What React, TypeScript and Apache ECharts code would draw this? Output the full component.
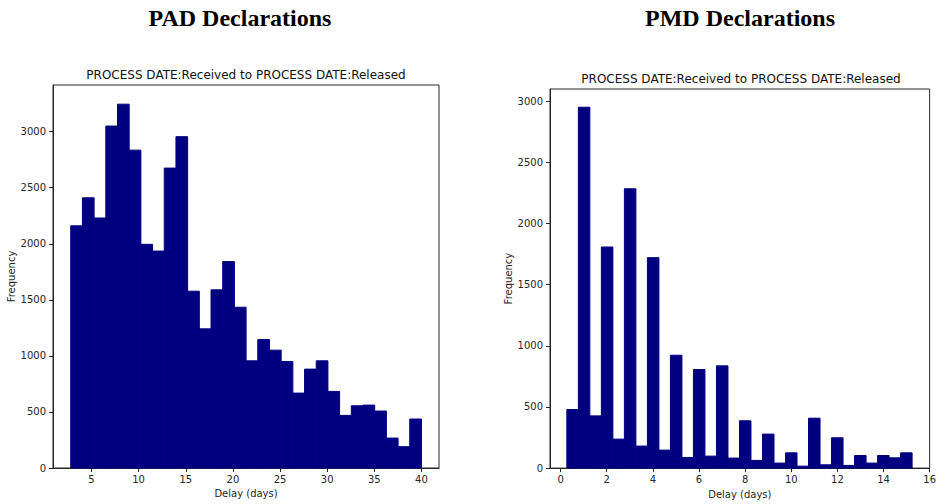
import React, { useEffect, useRef } from "react";
import * as echarts from "echarts";

// PAD histogram: 30 bins
const padBinStart = 2.8;
const padBinWidth = 1.24;
const padCounts = [
  2160, 2410, 2230, 3050, 3245, 2835, 1995, 1935, 2675, 2955,
  1577, 1241, 1589, 1841, 1434, 956, 1146, 1051, 950, 668,
  882, 956, 683, 469, 555, 561, 508, 267, 190, 437,
];
const padXTicks = [5, 10, 15, 20, 25, 30, 35, 40];
const padYTicks = [0, 500, 1000, 1500, 2000, 2500, 3000];

// PMD histogram: 30 bins
const pmdBinStart = 0.27;
const pmdBinWidth = 0.499;
const pmdCounts = [
  479, 2951, 427, 1808, 237, 2284, 180, 1721, 147, 923,
  87, 806, 98, 836, 82, 387, 63, 278, 41, 125,
  16, 408, 27, 248, 22, 103, 41, 103, 84, 125,
];
const pmdXTicks = [0, 2, 4, 6, 8, 10, 12, 14, 16];
const pmdYTicks = [0, 500, 1000, 1500, 2000, 2500, 3000];

const subTitle = "PROCESS DATE:Received to PROCESS DATE:Released";
const FONT = "DejaVu Sans";
const BAR = "#000080";
const INK = "#262626";

function toBins(start: number, width: number, counts: number[]) {
  return counts.map((c, i) => [start + i * width, start + (i + 1) * width, c]);
}

function renderHist(params: any, api: any) {
  const x0 = api.value(0);
  const x1 = api.value(1);
  const y = api.value(2);
  const p0 = api.coord([x0, y]);
  const p1 = api.coord([x1, 0]);
  return {
    type: "rect",
    shape: { x: p0[0], y: p0[1], width: p1[0] - p0[0], height: p1[1] - p0[1] },
    style: { fill: BAR, stroke: BAR, lineWidth: 1 },
  };
}

const plainNum = (v: number) => String(v);

function xAxisCfg(gridIndex: number, min: number, max: number, ticks: number[]) {
  return {
    type: "value",
    gridIndex,
    min,
    max,
    name: "Delay (days)",
    nameLocation: "middle",
    nameGap: 19,
    nameTextStyle: { fontFamily: FONT, fontSize: 10, color: INK },
    axisLine: { show: true, onZero: false, lineStyle: { color: INK, width: 1 } },
    axisTick: { show: true, length: 4, customValues: ticks, lineStyle: { color: INK } },
    axisLabel: {
      customValues: ticks,
      margin: 6,
      fontFamily: FONT,
      fontSize: 10,
      color: INK,
      formatter: plainNum,
    },
    splitLine: { show: false },
  };
}

function yAxisCfg(gridIndex: number, max: number, ticks: number[]) {
  return {
    type: "value",
    gridIndex,
    min: 0,
    max,
    name: "Frequency",
    nameLocation: "middle",
    nameRotate: 90,
    nameGap: 34,
    nameTextStyle: { fontFamily: FONT, fontSize: 10, color: INK },
    axisLine: { show: true, onZero: false, lineStyle: { color: INK, width: 1 } },
    axisTick: { show: true, length: 4, customValues: ticks, lineStyle: { color: INK } },
    axisLabel: {
      customValues: ticks,
      margin: 7,
      fontFamily: FONT,
      fontSize: 10,
      color: INK,
      formatter: plainNum,
    },
    splitLine: { show: false },
  };
}

export default function App() {
  const ref = useRef<HTMLDivElement>(null);
  useEffect(() => {
    if (!ref.current) return;
    const chart = echarts.init(ref.current, undefined, { renderer: "svg" });
    chart.setOption({
      animation: false,
      backgroundColor: "#ffffff",
      graphic: [
        {
          type: "text",
          x: 240,
          y: 6,
          style: {
            text: "PAD Declarations",
            font: "bold 24px 'Liberation Serif'",
            fill: "#000",
            textAlign: "center",
            textVerticalAlign: "top",
          },
        },
        {
          type: "text",
          x: 740,
          y: 6,
          style: {
            text: "PMD Declarations",
            font: "bold 24px 'Liberation Serif'",
            fill: "#000",
            textAlign: "center",
            textVerticalAlign: "top",
          },
        },
        {
          type: "text",
          x: 246,
          y: 75,
          style: {
            text: subTitle,
            font: "12px 'DejaVu Sans'",
            fill: "#111",
            textAlign: "center",
            textVerticalAlign: "middle",
          },
        },
        {
          type: "text",
          x: 741,
          y: 79,
          style: {
            text: subTitle,
            font: "12px 'DejaVu Sans'",
            fill: "#111",
            textAlign: "center",
            textVerticalAlign: "middle",
          },
        },
      ],
      grid: [
        { left: 53, top: 85, width: 386, height: 383, show: true, borderColor: INK, borderWidth: 1 },
        { left: 550, top: 89, width: 382, height: 380, show: true, borderColor: INK, borderWidth: 1 },
      ],
      xAxis: [
        xAxisCfg(0, 0.92, 41.86, padXTicks),
        xAxisCfg(1, -0.46, 16, pmdXTicks),
      ],
      yAxis: [yAxisCfg(0, 3416, padYTicks), yAxisCfg(1, 3100, pmdYTicks)],
      series: [
        {
          type: "custom",
          xAxisIndex: 0,
          yAxisIndex: 0,
          renderItem: renderHist,
          encode: { x: [0, 1], y: 2 },
          data: toBins(padBinStart, padBinWidth, padCounts),
        },
        {
          type: "custom",
          xAxisIndex: 1,
          yAxisIndex: 1,
          renderItem: renderHist,
          encode: { x: [0, 1], y: 2 },
          data: toBins(pmdBinStart, pmdBinWidth, pmdCounts),
        },
      ],
    });
    return () => chart.dispose();
  }, []);
  return (
    <div
      ref={ref}
      style={{ position: "absolute", left: 0, top: 0, width: 939, height: 504 }}
    />
  );
}
